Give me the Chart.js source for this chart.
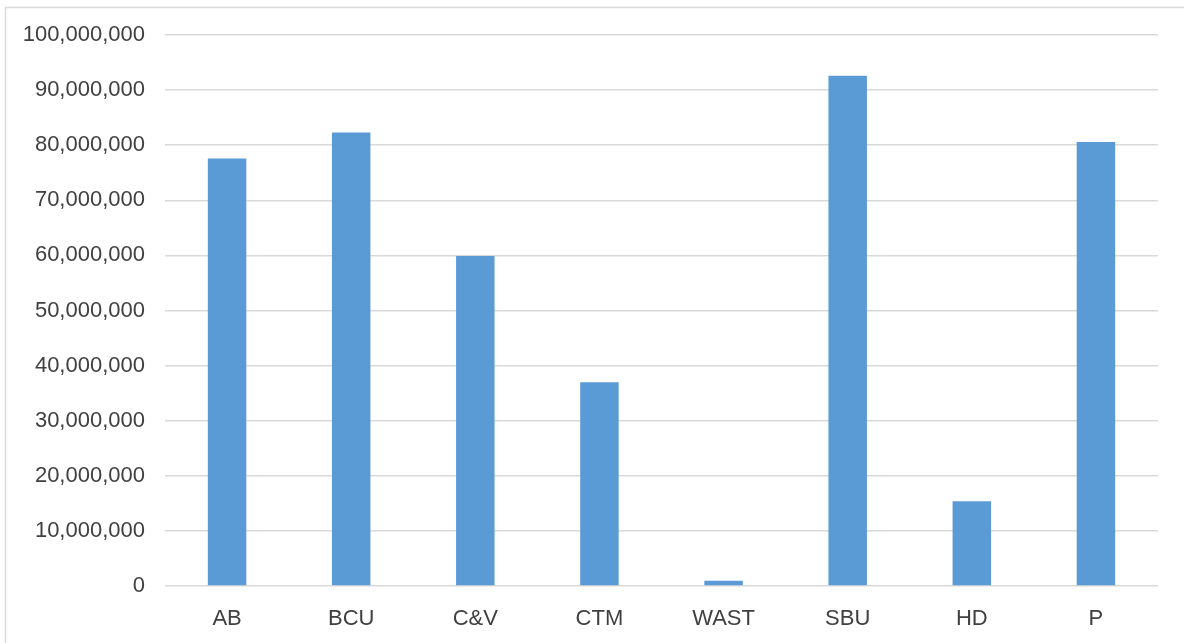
<!DOCTYPE html>
<html>
<head>
<meta charset="utf-8">
<script src="https://cdn.jsdelivr.net/npm/chart.js@4.4.1/dist/chart.umd.min.js"></script>
<style>
  html, body { margin: 0; padding: 0; background: #fff; }
  canvas { display: block; }
</style>
</head>
<body>
<canvas id="grafico" width="1184" height="643"></canvas>
<script>
// values
const categorias = ["AB", "BCU", "C&V", "CTM", "WAST", "SBU", "HD", "P"];
const valores = [77600000, 82300000, 59900000, 37000000, 950000, 92600000, 15400000, 80600000];
const ticksY = [0, 10000000, 20000000, 30000000, 40000000, 50000000, 60000000, 70000000, 80000000, 90000000, 100000000];

const fonte = { family: "'Liberation Sans', Arial, sans-serif", size: 22 };

// thin grey frame around the whole chart
const moldura = {
  id: "moldura",
  beforeDraw(chart) {
    const ctx = chart.ctx;
    ctx.save();
    ctx.fillStyle = "#fff";
    ctx.fillRect(0, 0, chart.width, chart.height);
    ctx.strokeStyle = "#d9d9d9";
    ctx.lineWidth = 1.5;
    ctx.strokeRect(5.5, 7.5, chart.width + 20, chart.height + 20);
    ctx.restore();
  }
};

const grafico = new Chart(document.getElementById("grafico"), {
  type: "bar",
  data: {
    labels: categorias,
    datasets: [{
      data: valores,
      backgroundColor: "#5b9bd5",
      borderWidth: 0,
      barPercentage: 0.31,
      categoryPercentage: 1
    }]
  },
  options: {
    responsive: false,
    animation: false,
    layout: { padding: { left: 8, right: 26, top: 35, bottom: 0 } },
    plugins: {
      legend: { display: false },
      tooltip: { enabled: false }
    },
    scales: {
      x: {
        grid: { display: false, drawTicks: false },
        border: { display: false },
        ticks: { color: "#404040", font: fonte, padding: 20, maxRotation: 0 },
        afterFit: s => { s.height = 57; }
      },
      y: {
        min: 0,
        max: 100000000,
        afterBuildTicks: s => { s.ticks = ticksY.map(v => ({ value: v })); },
        grid: { color: "#d9d9d9", lineWidth: 1.5, drawTicks: false },
        border: { display: false },
        ticks: {
          color: "#404040",
          font: fonte,
          padding: 20,
          callback: v => v.toLocaleString("en-US")
        },
        afterFit: s => { s.width = 157; }
      }
    }
  },
  plugins: [moldura]
});
</script>
</body>
</html>
